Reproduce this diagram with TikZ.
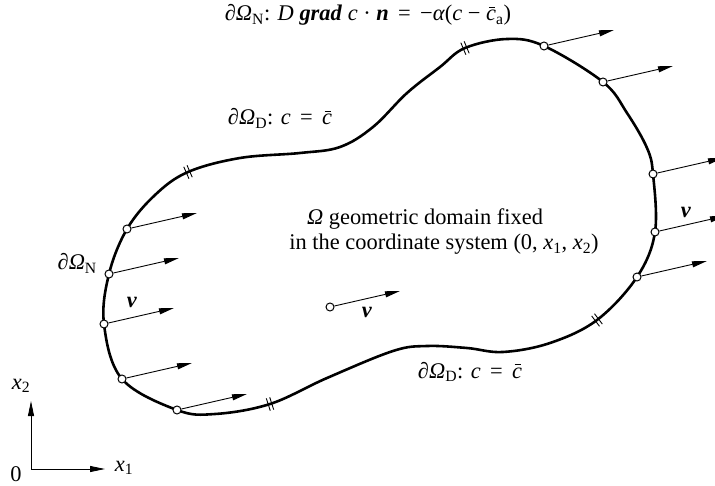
\documentclass[tikz,border=0pt]{standalone}
\usepackage{fontspec}
\setmainfont{Liberation Serif}
\usetikzlibrary{arrows.meta,calc}
\newcommand{\cquer}{\textit{c}\llap{\rule[0.56em]{0.3em}{0.045em}\kern0.03em}}

\begin{document}
\begin{tikzpicture}[
    x=1bp,y=-1bp,
    rand/.style  = {line width=2.6pt, line join=round},
    punkt/.style = {circle, draw, fill=white, line width=1pt,
                    minimum size=8bp, inner sep=0pt},
    vec/.style   = {-{Triangle[length=15bp,width=6bp]}, line width=0.9pt},
    achse/.style = {{Triangle[length=15bp,width=6bp]}-{Triangle[length=15bp,width=6bp]},
                    line width=0.9pt},
    bruch/.style = {line width=0.9pt},
    txt/.style   = {font=\fontsize{22.5}{27}\selectfont, inner sep=0pt},
  ]

  \useasboundingbox (0,0) rectangle (715,486);
  \clip (0,0) rectangle (715,486);

  % Randpunkte
  \coordinate (r1)  at (465,48);
  \coordinate (r2)  at (507,39);
  \coordinate (n1)  at (544,46);
  \coordinate (n2)  at (603,82);
  \coordinate (r3)  at (627,113);
  \coordinate (r4)  at (647,148);
  \coordinate (n3)  at (653,174);
  \coordinate (n4)  at (655,232);
  \coordinate (n5)  at (637,277);
  \coordinate (r5)  at (597,320);
  \coordinate (r6)  at (550,343);
  \coordinate (r7)  at (503,352);
  \coordinate (r8)  at (467,348);
  \coordinate (r9)  at (427,346);
  \coordinate (r10) at (393,351);
  \coordinate (r11) at (327,378);
  \coordinate (r12) at (270,404);
  \coordinate (r13) at (215,414);
  \coordinate (n6)  at (177,410);
  \coordinate (n7)  at (122,379);
  \coordinate (n8)  at (104,324);
  \coordinate (n9)  at (109,274);
  \coordinate (n10) at (127,229);
  \coordinate (r14) at (155,195);
  \coordinate (r15) at (188,172);
  \coordinate (r16) at (240,158);
  \coordinate (r17) at (300,153);
  \coordinate (r18) at (340,147);
  \coordinate (r19) at (373,127);
  \coordinate (r20) at (407,93);
  \coordinate (r21) at (440,67);
  \coordinate (n0)  at (330,307);

  \draw[rand] plot[smooth cycle, tension=0.6] coordinates {
      (r1) (r2) (n1) (n2) (r3) (r4) (n3) (n4) (n5) (r5) (r6) (r7) (r8)
      (r9) (r10) (r11) (r12) (r13) (n6) (n7) (n8) (n9) (n10) (r14) (r15)
      (r16) (r17) (r18) (r19) (r20) (r21)};

  % Trennstellen
  \foreach \b/\w in {r1/22.7, r5/37.2, r12/17.8, r15/23.5}
    \draw[bruch, shift={(\b)}, rotate=\w]
         (-1.8,-6.5) -- (-1.8,6.5) (1.8,-6.5) -- (1.8,6.5);

  % Geschwindigkeiten
  \foreach \p in {0,...,10} {
    \node[punkt] (k\p) at (n\p) {};
    \coordinate (e\p) at ($(n\p)+(70,-16)$);
    \draw[vec] (k\p) -- (e\p);
  }

  \node[txt,anchor=base] (rn)  at (368,21)
       {∂\textit{Ω}\textsubscript{N}: \textit{D} \textbf{\textit{grad}} \textit{c} · \textbf{\textit{n}} \,=\, −\textit{α}(\textit{c} − \cquer\textsubscript{a})};
  \node[txt,anchor=base] (rd1) at (280,125)
       {∂\textit{Ω}\textsubscript{D}: \textit{c} \,=\, \cquer};
  \node[txt,anchor=base] (rd2) at (470,378)
       {∂\textit{Ω}\textsubscript{D}: \textit{c} \,=\, \cquer};
  \node[txt,anchor=base east] (rnl) at (97,270)
       {∂\textit{Ω}\textsubscript{N}};
  \node[txt,anchor=base] (om1) at (425,225)
       {\textit{Ω} geometric domain fixed};
  \node[txt,anchor=base] (om2) at (444,250)
       {in the coordinate system (0, \textit{x}\textsubscript{1}, \textit{x}\textsubscript{2})};
  \node[txt] (v1) at (132,302) {\textbf{\textit{v}}};
  \node[txt] (v2) at (686,212) {\textbf{\textit{v}}};
  \node[txt] (v0) at (367,312) {\textbf{\textit{v}}};

  % Koordinatensystem
  \coordinate (o)   at (31,469);
  \coordinate (ax1) at (105,469);
  \coordinate (ax2) at (31,401);
  \draw[achse] (ax2) -- (o) -- (ax1);
  \node[txt] (lx2) at (21,386) {\textit{x}\textsubscript{2}};
  \node[txt] (lx1) at (124,468) {\textit{x}\textsubscript{1}};
  \node[txt,anchor=base] (l0) at (16,481) {0};

\end{tikzpicture}
\end{document}
